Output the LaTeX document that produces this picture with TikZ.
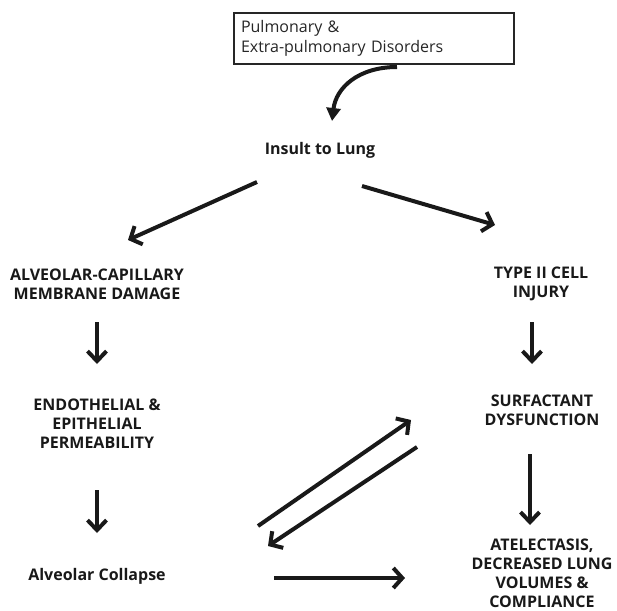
\documentclass[tikz,border=0pt]{standalone}
\usepackage{fontspec}
\setmainfont{Open Sans}
\usetikzlibrary{arrows.meta}
\begin{document}
\begin{tikzpicture}[x=1pt,y=-1pt,
  lbl/.style={font=\bfseries\fontsize{16}{19}\selectfont, align=center, inner sep=0pt, text=black!90},
  thick arrow/.style={line width=4pt, draw=black!90, -{Straight Barb[length=9pt,width=20pt,line width=4pt]}},
  down arrow/.style={line width=4pt, draw=black!90, -{Straight Barb[length=10pt,width=19pt,line width=4pt]}}
]
\useasboundingbox (0,0) rectangle (617,610);
% box
\node[draw=black!85, line width=2pt, minimum width=280pt, minimum height=51pt, text width=266pt,
      inner xsep=7pt, align=left, text=black!85, font=\fontsize{16}{20}\selectfont] (src) at (374,38.5)
      {Pulmonary \&\\Extra-pulmonary Disorders};
\node[lbl] (insult) at (320,150) {Insult to Lung};
\node[lbl] (acm) at (97,284) {ALVEOLAR-CAPILLARY\\MEMBRANE DAMAGE};
\node[lbl] (t2) at (541,284) {TYPE II CELL\\INJURY};
\node[lbl] (perm) at (97,424) {ENDOTHELIAL \&\\EPITHELIAL\\PERMEABILITY};
\node[lbl] (surf) at (542,410) {SURFACTANT\\DYSFUNCTION};
\node[lbl] (coll) at (97,576) {Alveolar Collapse};
\node[lbl] (atel) at (542,573) {ATELECTASIS,\\DECREASED LUNG\\VOLUMES \&\\COMPLIANCE};
% arrow endpoints
\coordinate (c0) at (397,67);
\coordinate (c1) at (332,121);
\coordinate (l0) at (257,182);
\coordinate (l1) at (128,240);
\coordinate (r0) at (362,186);
\coordinate (r1) at (495,225);
\coordinate (d1a) at (97,322);
\coordinate (d1b) at (97,364);
\coordinate (d2a) at (532,322);
\coordinate (d2b) at (532,364);
\coordinate (d3a) at (97,490);
\coordinate (d3b) at (97,533);
\coordinate (d4a) at (530,454);
\coordinate (d4b) at (530,525);
\coordinate (u0) at (258,526);
\coordinate (u1) at (411,420);
\coordinate (v0) at (417,447);
\coordinate (v1) at (268,546);
\coordinate (h0) at (274,578);
\coordinate (h1) at (405,578);
% connectors
\draw[line width=4pt, draw=black!90, -{Triangle[length=13pt,width=14pt]}] (c0) .. controls (358,67) and (336,88) .. (c1);
\draw[thick arrow] (l0) -- (l1);
\draw[thick arrow] (r0) -- (r1);
\draw[down arrow] (d1a) -- (d1b);
\draw[down arrow] (d2a) -- (d2b);
\draw[down arrow] (d3a) -- (d3b);
\draw[down arrow] (d4a) -- (d4b);
\draw[thick arrow] (u0) -- (u1);
\draw[thick arrow] (v0) -- (v1);
\draw[thick arrow] (h0) -- (h1);
\end{tikzpicture}
\end{document}
